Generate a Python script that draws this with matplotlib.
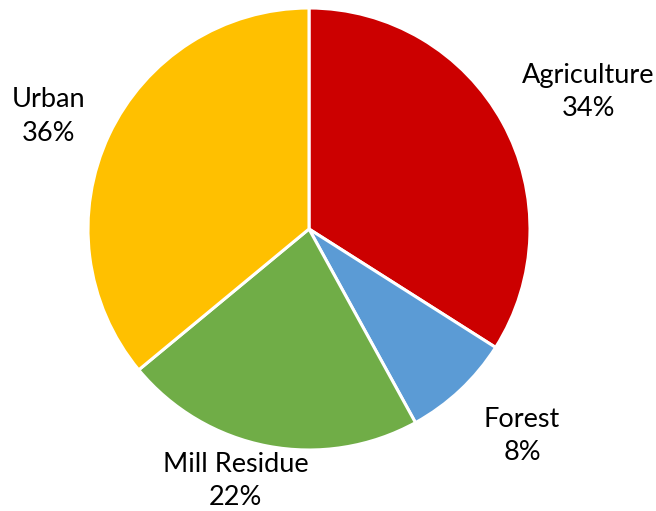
import numpy as np
import matplotlib
matplotlib.use('Agg')
import matplotlib.pyplot as plt

# Share of feedstock by source
labels = ['Agriculture', 'Forest', 'Mill Residue', 'Urban']
shares = [34, 8, 22, 36]
colors = ['#CC0000', '#5B9BD5', '#70AD47', '#FFC000']
# best-fit label placement as in the original: radius factor, angular nudge (deg)
label_dist = [1.407, 1.344, 1.188, 1.283]
label_nudge = [-2.7, 2.6, -5.4, 1.8]

plt.rcParams['font.family'] = ['Lato', 'DejaVu Sans']

fig = plt.figure(figsize=(6.56, 5.11), dpi=100)
ax = fig.add_axes([0, 0, 1, 1])

wedges, _ = ax.pie(shares, colors=colors, startangle=90, counterclock=False,
                   wedgeprops={'edgecolor': 'white', 'linewidth': 2.2})

# labels placed outside each wedge near its mid angle
for w, name, val, d, nudge in zip(wedges, labels, shares, label_dist, label_nudge):
    ang = np.deg2rad((w.theta1 + w.theta2) / 2 + nudge)
    ax.text(d * np.cos(ang), d * np.sin(ang), f'{name}\n{val}%',
            ha='center', va='center', fontsize=19.5, color='#000000',
            linespacing=1.42)

# map data units to pixels: center at (309, 229) px, radius 221 px
r = 221
ax.set_xlim(-309 / r, (656 - 309) / r)
ax.set_ylim(-(511 - 229) / r, 229 / r)
ax.set_aspect('auto')
ax.axis('off')

fig.savefig('out.png', dpi=100)
